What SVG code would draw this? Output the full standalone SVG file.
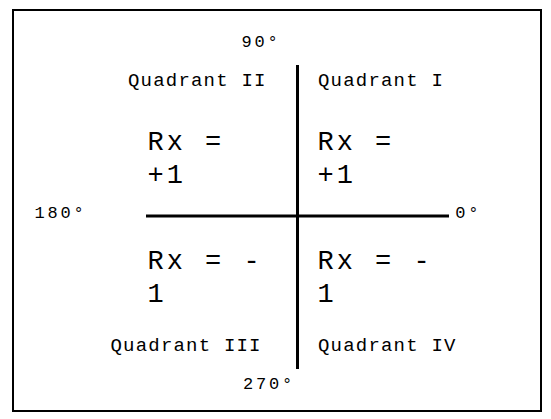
<svg xmlns="http://www.w3.org/2000/svg" width="551" height="419" viewBox="0 0 551 419">
<style>
.frame{fill:#fff;stroke:#000;stroke-width:2}
.axis{stroke:#000;stroke-width:3;fill:none}
.deg{font-family:"Liberation Mono",monospace;font-size:17px;letter-spacing:2.8px;fill:#000}
.quad{font-family:"Liberation Mono",monospace;font-size:19px;letter-spacing:1.2px;fill:#000}
.rx{font-family:"Liberation Mono",monospace;font-size:27px;letter-spacing:3px;fill:#000}
</style>
<rect class="frame" x="13" y="10" width="528" height="401"/>
<g id="connectors">
<line class="axis" x1="297.5" y1="65" x2="297.5" y2="369"/>
<line class="axis" x1="146" y1="216" x2="449" y2="216"/>
</g>
<g id="deg90"><text class="deg" x="241.5" y="47">90°</text></g>
<g id="deg180"><text class="deg" x="34.5" y="218">180°</text></g>
<g id="deg0"><text class="deg" x="455.3" y="218">0°</text></g>
<g id="deg270"><text class="deg" x="243" y="389">270°</text></g>
<g id="q2"><text class="quad" x="128" y="86">Quadrant II</text>
<text class="rx" x="147.5" y="149.5">Rx =</text><text class="rx" x="147.5" y="183">+1</text></g>
<g id="q1"><text class="quad" x="318" y="86">Quadrant I</text>
<text class="rx" x="317.5" y="149.5">Rx =</text><text class="rx" x="317.5" y="183">+1</text></g>
<g id="q3"><text class="quad" x="110.5" y="351">Quadrant III</text>
<text class="rx" x="147.5" y="269">Rx = -</text><text class="rx" x="147.5" y="302">1</text></g>
<g id="q4"><text class="quad" x="318" y="351">Quadrant IV</text>
<text class="rx" x="317.5" y="269">Rx = -</text><text class="rx" x="317.5" y="302">1</text></g>
</svg>
